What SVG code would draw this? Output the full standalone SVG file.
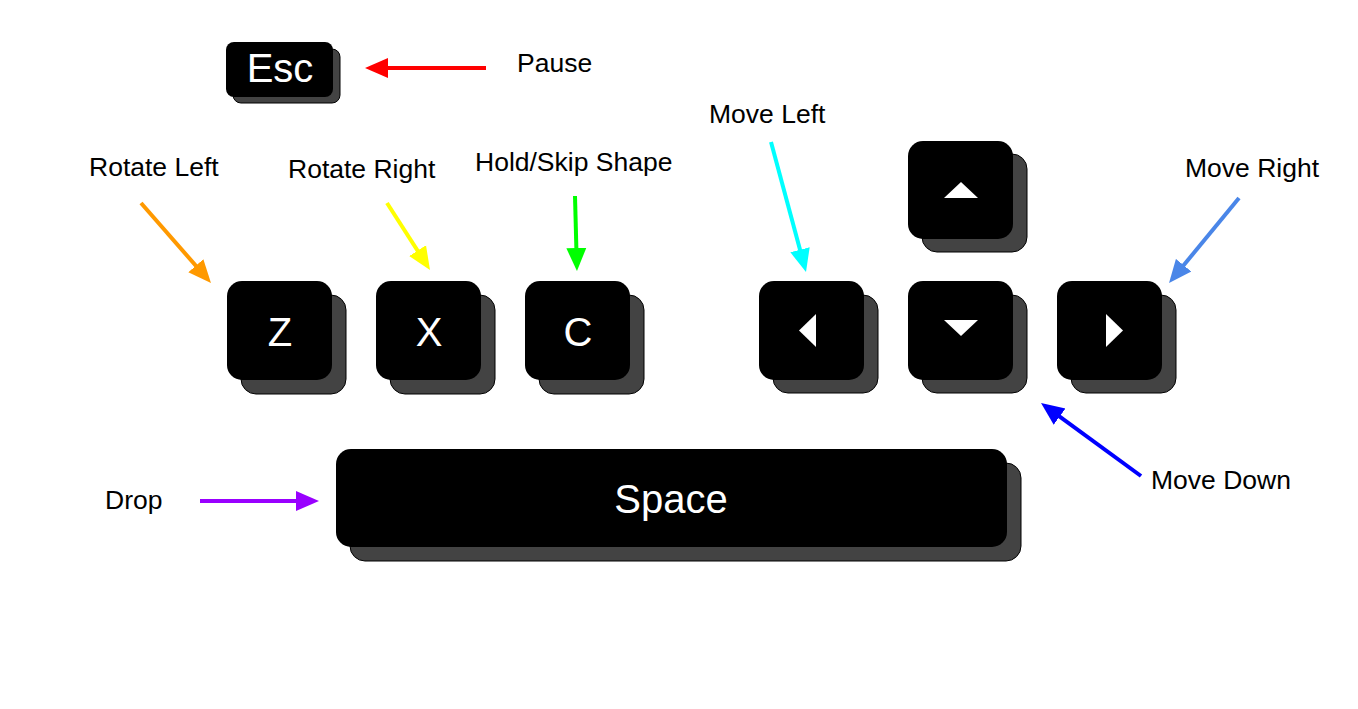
<svg xmlns="http://www.w3.org/2000/svg" width="1358" height="709" viewBox="0 0 1358 709">
<style>
.sh{fill:#434343;stroke:#000;stroke-width:1}
.fr{fill:#000}
.kt{fill:#fff;font-family:"Liberation Sans",Arial,sans-serif;text-anchor:middle}
.lb{fill:#000;font-family:"Liberation Sans",Arial,sans-serif;font-size:26.5px}
.tri{fill:#fff}
.ar{fill:none;stroke-width:4}
</style>
<defs>
<marker id="mr" markerUnits="userSpaceOnUse" markerWidth="24" markerHeight="22" refX="13" refY="11" orient="auto"><path d="M0,1 L23,11 L0,21 z" fill="#ff0000"/></marker>
<marker id="mo" markerUnits="userSpaceOnUse" markerWidth="24" markerHeight="22" refX="13" refY="11" orient="auto"><path d="M0,1 L23,11 L0,21 z" fill="#ff9900"/></marker>
<marker id="my" markerUnits="userSpaceOnUse" markerWidth="24" markerHeight="22" refX="13" refY="11" orient="auto"><path d="M0,1 L23,11 L0,21 z" fill="#ffff00"/></marker>
<marker id="mg" markerUnits="userSpaceOnUse" markerWidth="24" markerHeight="22" refX="13" refY="11" orient="auto"><path d="M0,1 L23,11 L0,21 z" fill="#00ff00"/></marker>
<marker id="mc" markerUnits="userSpaceOnUse" markerWidth="24" markerHeight="22" refX="13" refY="11" orient="auto"><path d="M0,1 L23,11 L0,21 z" fill="#00ffff"/></marker>
<marker id="ml" markerUnits="userSpaceOnUse" markerWidth="24" markerHeight="22" refX="13" refY="11" orient="auto"><path d="M0,1 L23,11 L0,21 z" fill="#4a86e8"/></marker>
<marker id="mb" markerUnits="userSpaceOnUse" markerWidth="24" markerHeight="22" refX="13" refY="11" orient="auto"><path d="M0,1 L23,11 L0,21 z" fill="#0000ff"/></marker>
<marker id="mp" markerUnits="userSpaceOnUse" markerWidth="24" markerHeight="22" refX="13" refY="11" orient="auto"><path d="M0,1 L23,11 L0,21 z" fill="#9900ff"/></marker>
</defs>
<rect width="1358" height="709" fill="#fff"/>

<g id="key-esc">
<rect class="sh" x="233" y="49" width="107" height="54" rx="8"/>
<rect class="fr" x="226" y="42" width="107" height="55" rx="8"/>
<text class="kt" x="280" y="82" font-size="40">Esc</text>
</g>
<g id="key-z">
<rect class="sh" x="241" y="295" width="105" height="99" rx="15"/>
<rect class="fr" x="227" y="281" width="105" height="99" rx="15"/>
<text class="kt" x="280" y="346" font-size="40">Z</text>
</g>
<g id="key-x">
<rect class="sh" x="390" y="295" width="105" height="99" rx="15"/>
<rect class="fr" x="376" y="281" width="105" height="99" rx="15"/>
<text class="kt" x="429" y="346" font-size="40">X</text>
</g>
<g id="key-c">
<rect class="sh" x="539" y="295" width="105" height="99" rx="15"/>
<rect class="fr" x="525" y="281" width="105" height="99" rx="15"/>
<text class="kt" x="578" y="346" font-size="40">C</text>
</g>
<g id="key-up">
<rect class="sh" x="922" y="154" width="105" height="98" rx="15"/>
<rect class="fr" x="908" y="141" width="105" height="98" rx="15"/>
<polygon class="tri" points="944,198 961,182 978,198"/>
</g>
<g id="key-left">
<rect class="sh" x="773" y="295" width="105" height="98" rx="15"/>
<rect class="fr" x="759" y="281" width="105" height="99" rx="15"/>
<polygon class="tri" points="799,330.5 816,314 816,347"/>
</g>
<g id="key-down">
<rect class="sh" x="922" y="295" width="105" height="98" rx="15"/>
<rect class="fr" x="908" y="281" width="105" height="99" rx="15"/>
<polygon class="tri" points="944,320 978,320 961,336"/>
</g>
<g id="key-right">
<rect class="sh" x="1071" y="295" width="105" height="98" rx="15"/>
<rect class="fr" x="1057" y="281" width="105" height="99" rx="15"/>
<polygon class="tri" points="1106,314 1123,330.5 1106,347"/>
</g>
<g id="key-space">
<rect class="sh" x="350" y="463" width="671" height="98" rx="15"/>
<rect class="fr" x="336" y="449" width="671" height="98" rx="15"/>
<text class="kt" x="671" y="513" font-size="40">Space</text>
</g>

<g id="labels">
<text class="lb" x="517" y="72">Pause</text>
<text class="lb" x="89" y="176">Rotate Left</text>
<text class="lb" x="288" y="178">Rotate Right</text>
<text class="lb" x="475" y="171">Hold/Skip Shape</text>
<text class="lb" x="709" y="123">Move Left</text>
<text class="lb" x="1185" y="177">Move Right</text>
<text class="lb" x="1151" y="489">Move Down</text>
<text class="lb" x="105" y="509">Drop</text>
</g>

<g id="connectors">
<line class="ar" x1="486" y1="68" x2="375" y2="68" stroke="#ff0000" marker-end="url(#mr)"/>
<line class="ar" x1="141" y1="203" x2="204.4" y2="275.5" stroke="#ff9900" marker-end="url(#mo)"/>
<line class="ar" x1="387" y1="203" x2="424.6" y2="261.6" stroke="#ffff00" marker-end="url(#my)"/>
<line class="ar" x1="575" y1="196" x2="576.7" y2="261" stroke="#00ff00" marker-end="url(#mg)"/>
<line class="ar" x1="771" y1="142" x2="803.4" y2="262.3" stroke="#00ffff" marker-end="url(#mc)"/>
<line class="ar" x1="1239" y1="198" x2="1175.4" y2="275.3" stroke="#4a86e8" marker-end="url(#ml)"/>
<line class="ar" x1="1141" y1="476" x2="1049.1" y2="408.9" stroke="#0000ff" marker-end="url(#mb)"/>
<line class="ar" x1="200" y1="501" x2="309" y2="501" stroke="#9900ff" marker-end="url(#mp)"/>
</g>
</svg>
